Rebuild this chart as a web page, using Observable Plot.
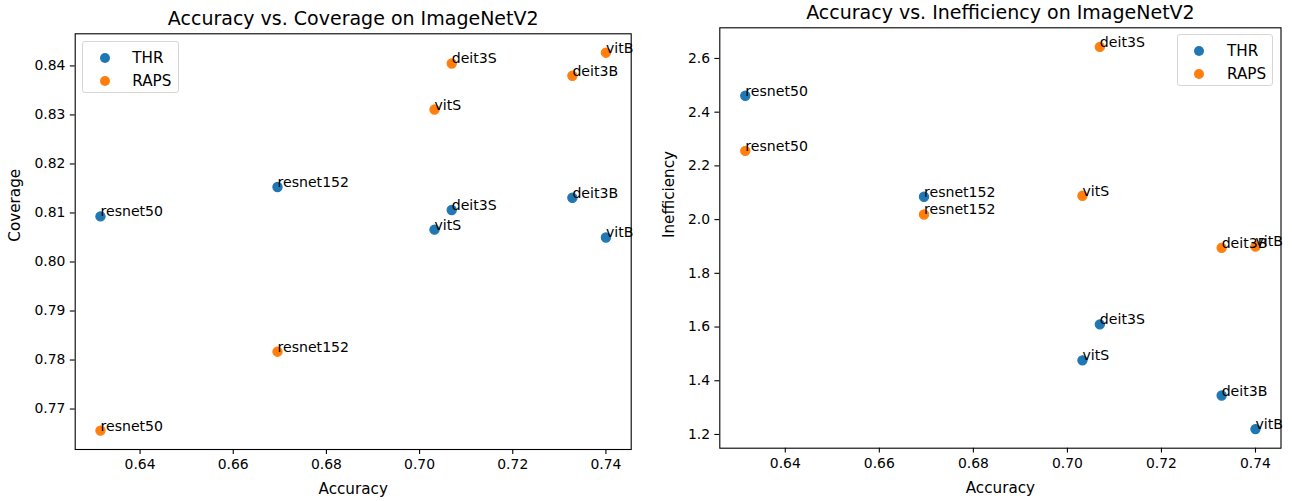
<!DOCTYPE html>
<html>
<head>
<meta charset="utf-8">
<script src="https://cdn.jsdelivr.net/npm/d3@7"></script>
<script src="https://cdn.jsdelivr.net/npm/@observablehq/plot@0.6"></script>
<style>
  html, body { margin: 0; padding: 0; background: #fff; }
  #root { position: relative; width: 1292px; height: 501px; font-family: "DejaVu Sans", sans-serif; }
  .panel { position: absolute; top: 0; }
  .legend { position: absolute; border: 1px solid #d6d6d6; border-radius: 3px; background: rgba(255,255,255,0.8); font-size: 15.2px; color: #000; box-sizing: border-box; }
  .legend .row { position: absolute; left: 0; height: 18px; line-height: 18px; white-space: nowrap; }
  .legend .sw { position: absolute; width: 10px; height: 10px; border-radius: 50%; top: 4px; }
  .legend .lab { position: absolute; top: 0; }
</style>
</head>
<body>
<div id="root"></div>
<script>
// ---- data ----
const models = ["resnet50", "resnet152", "vitS", "deit3S", "deit3B", "vitB"];
const accuracy = [0.6315, 0.6695, 0.7032, 0.7069, 0.7328, 0.7400];
const coverageTHR = [0.8093, 0.8153, 0.8066, 0.8106, 0.8131, 0.8050];
const coverageRAPS = [0.7656, 0.7817, 0.8311, 0.8405, 0.8380, 0.8427];
const ineffTHR = [2.461, 2.085, 1.476, 1.610, 1.345, 1.220];
const ineffRAPS = [2.256, 2.019, 2.089, 2.643, 1.895, 1.900];
const methods = ["THR", "RAPS"];
const methodColors = ["#1f77b4", "#ff7f0e"];
const xTicks = [0.64, 0.66, 0.68, 0.70, 0.72, 0.74];
const covTicks = [0.77, 0.78, 0.79, 0.80, 0.81, 0.82, 0.83, 0.84];
const ineffTicks = [1.2, 1.4, 1.6, 1.8, 2.0, 2.2, 2.4, 2.6];

const FONT = "DejaVu Sans, sans-serif";
const FS = 13.9;      // tick labels
const FS_ANN = 14.1;  // point annotations
const FS_LAB = 15.2;  // axis labels
const FS_TITLE = 19;  // titles

function rows(valsTHR, valsRAPS) {
  const out = [];
  models.forEach((m, i) => out.push({model: m, method: "THR", acc: accuracy[i], v: valsTHR[i]}));
  models.forEach((m, i) => out.push({model: m, method: "RAPS", acc: accuracy[i], v: valsRAPS[i]}));
  return out;
}
function padded(vals) {
  const [a, b] = d3.extent(vals);
  const p = (b - a) * 0.05;
  return [a - p, b + p];
}

function panel(opts) {
  const data = rows(opts.thr, opts.raps);
  return Plot.plot({
    width: 646,
    height: 501,
    marginLeft: opts.ml,
    marginRight: opts.mr,
    marginTop: opts.mt,
    marginBottom: opts.mb,
    style: {fontFamily: FONT, fontSize: FS + "px", color: "#000", background: "transparent", overflow: "visible"},
    x: {domain: padded(accuracy), ticks: xTicks},
    y: {domain: padded(opts.thr.concat(opts.raps)), ticks: opts.yTicks},
    color: {domain: methods, range: methodColors},
    marks: [
      Plot.axisX({ticks: xTicks, tickFormat: d3.format(".2f"), tickSize: 4.9, tickPadding: 4.9, strokeWidth: 1.1, label: null, fontSize: FS}),
      Plot.axisY({ticks: opts.yTicks, tickFormat: d3.format(opts.yFmt), tickSize: 4.9, tickPadding: 4.9, strokeWidth: 1.1, label: null, fontSize: FS}),
      Plot.dot(data, {x: "acc", y: "v", fill: "method", stroke: "method", strokeWidth: 1.2, r: 4.6}),
      Plot.text(data, {x: "acc", y: "v", text: "model", textAnchor: "start", lineAnchor: "bottom", fill: "#000", fontSize: FS_ANN}),
      Plot.frame({stroke: "#000", strokeWidth: 1.1}),
      Plot.text([opts.title], {frameAnchor: "top", dy: opts.titleDy, text: d => d, fontSize: FS_TITLE, fill: "#000", lineAnchor: "bottom"}),
      Plot.text(["Accuracy"], {frameAnchor: "bottom", dy: 44.5, text: d => d, fontSize: FS_LAB, fill: "#000", lineAnchor: "bottom"}),
      Plot.text([opts.yLabel], {frameAnchor: "left", dx: opts.yLabelDx, rotate: -90, text: d => d, fontSize: FS_LAB, fill: "#000", lineAnchor: "middle"})
    ]
  });
}

function legend(left, top, width, height, rowYs, markerX, textX) {
  const lg = document.createElement("div");
  lg.className = "legend";
  Object.assign(lg.style, {left: left + "px", top: top + "px", width: width + "px", height: height + "px"});
  methods.forEach((m, i) => {
    const r = document.createElement("div");
    r.className = "row";
    r.style.top = (rowYs[i] - top - 9) + "px";
    const sw = document.createElement("div");
    sw.className = "sw";
    sw.style.left = (markerX - left - 5) + "px";
    sw.style.background = methodColors[i];
    const lab = document.createElement("div");
    lab.className = "lab";
    lab.style.left = (textX - left) + "px";
    lab.textContent = m;
    r.appendChild(sw); r.appendChild(lab);
    lg.appendChild(r);
  });
  return lg;
}

const root = document.getElementById("root");

const p1 = panel({thr: coverageTHR, raps: coverageRAPS, yTicks: covTicks, yFmt: ".2f",
  ml: 74.7, mr: 15.3, mt: 33.3, mb: 52, title: "Accuracy vs. Coverage on ImageNetV2",
  titleDy: -8.5, yLabel: "Coverage", yLabelDx: -60});
const w1 = document.createElement("div");
w1.className = "panel"; w1.style.left = "0px";
w1.appendChild(p1);
root.appendChild(w1);

const p2 = panel({thr: ineffTHR, raps: ineffRAPS, yTicks: ineffTicks, yFmt: ".1f",
  ml: 73.3, mr: 11.5, mt: 27.3, mb: 53.3, title: "Accuracy vs. Inefficiency on ImageNetV2",
  titleDy: -9, yLabel: "Inefficiency", yLabelDx: -51});
const w2 = document.createElement("div");
w2.className = "panel"; w2.style.left = "646px";
w2.appendChild(p2);
root.appendChild(w2);

root.appendChild(legend(82.3, 41, 97, 52, [57, 79.5], 103.7, 131.3));
root.appendChild(legend(1177, 34.3, 96, 52, [50.5, 73], 1198.4, 1226));
</script>
</body>
</html>
